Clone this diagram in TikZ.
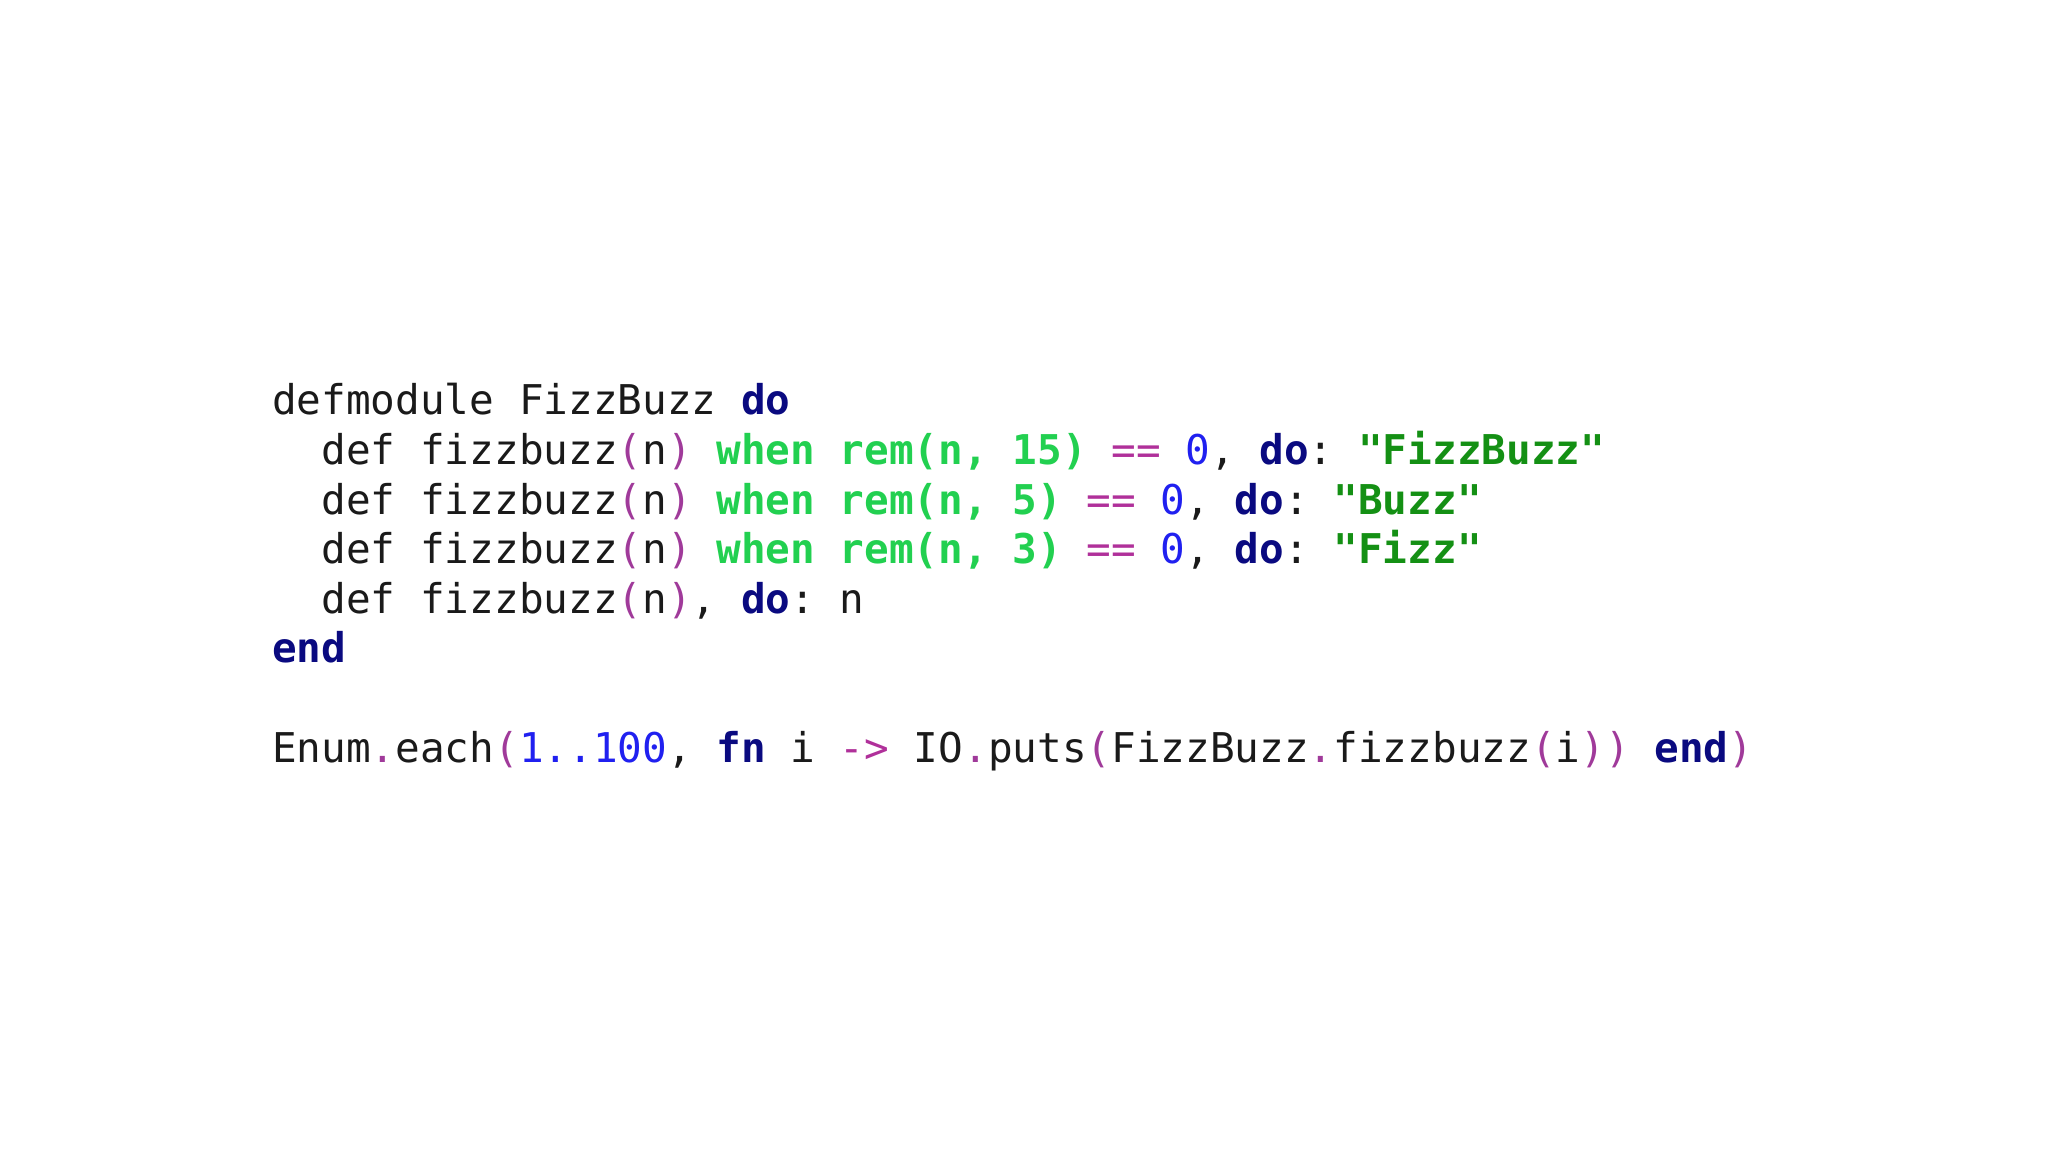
\documentclass[tikz,border=0pt]{standalone}
\usepackage{fontspec}
\setmonofont{DejaVu Sans Mono}
\definecolor{kw}{HTML}{0A0A80}
\definecolor{grn}{HTML}{22D050}
\definecolor{str}{HTML}{149014}
\definecolor{num}{HTML}{2020F0}
\definecolor{op}{HTML}{B0309A}
\definecolor{par}{HTML}{A03A9A}
\definecolor{txt}{HTML}{1A1A1A}
\newcommand{\K}[1]{\textcolor{kw}{\textbf{#1}}}
\newcommand{\G}[1]{\textcolor{grn}{\textbf{#1}}}
\newcommand{\Sx}[1]{\textcolor{str}{\textbf{#1}}}
\newcommand{\N}[1]{\textcolor{num}{#1}}
\newcommand{\Op}[1]{\textcolor{op}{#1}}
\newcommand{\Pa}[1]{\textcolor{par}{#1}}
\begin{document}
\begin{tikzpicture}[x=1pt,y=1pt,
  code/.style={anchor=base west,inner sep=0pt,font=\ttfamily\fontsize{41}{41}\selectfont,text=txt}]
\fill[white] (0,0) rectangle (2048,1150);
\useasboundingbox (0,0) rectangle (2048,1150);
\node[code] (l1) at (272,1150-415) {defmodule FizzBuzz \K{do}};
\node[code] (l2) at (272,1150-465) {\ \ def fizzbuzz\Pa{(}n\Pa{)} \G{when rem(n, 15)} \Op{==} \N{0}, \K{do}: \Sx{"FizzBuzz"}};
\node[code] (l3) at (272,1150-515) {\ \ def fizzbuzz\Pa{(}n\Pa{)} \G{when rem(n, 5)} \Op{==} \N{0}, \K{do}: \Sx{"Buzz"}};
\node[code] (l4) at (272,1150-564) {\ \ def fizzbuzz\Pa{(}n\Pa{)} \G{when rem(n, 3)} \Op{==} \N{0}, \K{do}: \Sx{"Fizz"}};
\node[code] (l5) at (272,1150-614) {\ \ def fizzbuzz\Pa{(}n\Pa{)}, \K{do}: n};
\node[code] (l6) at (272,1150-663) {\K{end}};
\node[code] (l7) at (272,1150-763) {Enum\Pa{.}each\Pa{(}\N{1..100}, \K{fn} i \Op{->} IO\Pa{.}puts\Pa{(}FizzBuzz\Pa{.}fizzbuzz\Pa{(}i\Pa{))} \K{end}\Pa{)}};
\end{tikzpicture}
\end{document}
